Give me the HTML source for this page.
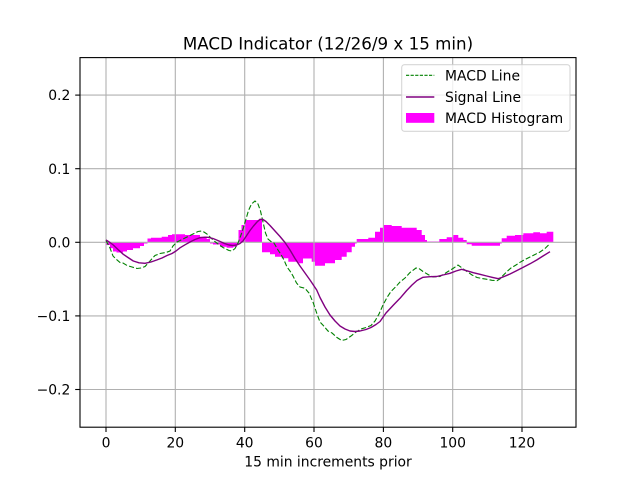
<!DOCTYPE html>
<html>
<head>
<meta charset="utf-8">
<style>
html,body{margin:0;padding:0;background:#fff;}
svg{display:block;}
text{font-family:"DejaVu Sans","Liberation Sans",sans-serif;fill:#000;}
</style>
</head>
<body>
<svg width="640" height="480" viewBox="0 0 640 480" xmlns="http://www.w3.org/2000/svg">
<rect x="0" y="0" width="640" height="480" fill="#fff"/>
<!-- histogram -->
<path fill="#ff00ff" stroke="none" d="M104.5,242.3 L104.5,243 L106.5,243 L106.5,245 L110,245 L110,248.3 L113,248.3 L113,251.5 L116.5,251.5 L116.5,252.5 L123,252.5 L123,251.5 L127,251.5 L127,250 L133,250 L133,248.3 L140,248.3 L140,246 L144,246 L144,243.5 L147.5,243.5 L147.5,238.5 L151,238.5 L151,237.7 L161.7,237.7 L161.7,236.7 L168,236.7 L168,235 L172,235 L172,234.3 L185,234.3 L185,235 L200,235 L200,236.7 L206.7,236.7 L206.7,239 L210,239 L210,243.5 L213,243.5 L213,244.5 L220,244.5 L220,246.7 L226.7,246.7 L226.7,247.7 L233.3,247.7 L233.3,246.7 L237,246.7 L237,244 L238.5,244 L238.5,230 L241.5,230 L241.5,225 L245,225 L245,220 L262,220 L262,252.3 L270,252.3 L270,254.3 L275,254.3 L275,256.7 L281.7,256.7 L281.7,258.3 L288.3,258.3 L288.3,261.7 L298.3,261.7 L298.3,263.3 L303,263.3 L303,258.5 L311.7,258.5 L311.7,261.7 L315,261.7 L315,265.7 L325,265.7 L325,263.3 L335,263.3 L335,260 L341.7,260 L341.7,256.7 L346.7,256.7 L346.7,252.3 L351.7,252.3 L351.7,246.7 L355,246.7 L355,243.5 L356.7,243.5 L356.7,239 L368.3,239 L368.3,237.7 L375,237.7 L375,231.7 L380,231.7 L380,227.7 L383.3,227.7 L383.3,225 L391.7,225 L391.7,226 L401.7,226 L401.7,227.7 L416.7,227.7 L416.7,230 L421.7,230 L421.7,235 L425,235 L425,240 L427,240 L427,241.5 L439.3,241.5 L439.3,239 L446.7,239 L446.7,237.3 L453.3,237.3 L453.3,235 L458.3,235 L458.3,237.7 L463.3,237.7 L463.3,240 L466.7,240 L466.7,244.3 L471.7,244.3 L471.7,245.7 L500,245.7 L500,243.5 L501.7,243.5 L501.7,238.3 L506.7,238.3 L506.7,235.7 L515,235.7 L515,235 L523.3,235 L523.3,233.3 L533.3,233.3 L533.3,232.3 L540,232.3 L540,233.3 L546.7,233.3 L546.7,231.7 L553.3,231.7 L553.3,242.3 Z"/>
<!-- grid -->
<g stroke="#b0b0b0" stroke-width="1.1" fill="none">
<line x1="106" y1="57.6" x2="106" y2="427.2"/>
<line x1="175.3" y1="57.6" x2="175.3" y2="427.2"/>
<line x1="244.7" y1="57.6" x2="244.7" y2="427.2"/>
<line x1="314" y1="57.6" x2="314" y2="427.2"/>
<line x1="383.4" y1="57.6" x2="383.4" y2="427.2"/>
<line x1="452.7" y1="57.6" x2="452.7" y2="427.2"/>
<line x1="522" y1="57.6" x2="522" y2="427.2"/>
<line x1="80" y1="95.1" x2="576" y2="95.1"/>
<line x1="80" y1="168.7" x2="576" y2="168.7"/>
<line x1="80" y1="242.3" x2="576" y2="242.3"/>
<line x1="80" y1="315.9" x2="576" y2="315.9"/>
<line x1="80" y1="389.5" x2="576" y2="389.5"/>
</g>
<!-- MACD line -->
<polyline fill="none" stroke="#008000" stroke-width="1.1" stroke-dasharray="5.1,2.2" points="106,240.5 110,248 113,256 116,259 120,262.5 123,263 127,265.5 132,267 137,268.5 141,268 145,266.5 150,261 155,255.5 160,253.5 166,252.5 170,251 173,246 177,242 182,239.5 187,237 193,234 198,231.5 201.5,231 204,232 207,234 213,240 218,244 223,247.5 229,250.5 232,251 235,248.5 238,243 241,235 243.5,227.5 246,219 248.5,210.5 251.5,204 255,201 258,204 260.5,211 263,222 265.5,233 268,239 271,241.5 274,243 278,250 281,254.5 284,260 287,267 290,271 293,276 296.5,283 300,287 305,288.3 309,293 313.3,303 317,314 320,322 323.3,325.5 328,331 332,333 337,337.5 341.7,340.5 346,339.5 351,336 356,332 361,329 366,327.5 371,325.5 375,321 379,314 383,305 387,297.5 391,291.5 396,286.5 400,282 405,278 410,272.5 416,268 419,268.5 423,271.5 428,274.5 433,277 440,276.5 444,274 448,271.5 453,268.5 458,265 462,268 467,271.5 472,275 477,277.5 482,278.5 487,279.3 492,280.3 497,280.7 500,279 503,275.5 507,271.5 511,268 516,265 520,262.3 525,259.5 530,257 535,254.5 540,252 545,248.5 550,243.5"/>
<!-- Signal line -->
<polyline fill="none" stroke="#800080" stroke-width="1.4" stroke-linejoin="round" points="106,240 110,242.5 113.3,245 118,249.5 123.3,254.3 128,257.5 133.3,261 139,262.8 145,263.3 151,262 156.7,260 162,258 167,255.5 172,253.5 176,251 180,247.8 185,244.8 190,242 195,239.5 200,237.7 205,237.2 208,237.3 213,238.5 219,241 224,243.3 229,245 233,245.5 236.7,245 240,243.5 243,241 246,236.5 250,230.5 253.5,226 257,222 260,219.3 263,219.5 266,221.5 270,225.5 275,231 280,236.5 285,242.5 290,250 295,258.5 300,266 305,273 310,280 316.7,290 320,297.5 325,307 330,315 335,321 340,326 345,329 350,331 355,331.5 360,331 366,329.5 371,327.5 376,324.5 380,321.5 386,313 393,305.5 400,298.3 406.7,290.5 412,285 417,280.5 423,277.3 430,276.7 436.7,276.5 443,275 450,273.3 456,271 461.7,269.3 467,270.8 473.3,272.7 480,274.3 486.7,276 492,277.3 498.3,278.7 503,277 510,274 516,271 523.3,267.3 530,263.8 536.7,260 543,256 550,251.7"/>
<!-- spines -->
<rect x="80" y="57.6" width="496" height="369.6" fill="none" stroke="#000" stroke-width="1.1"/>
<!-- ticks -->
<g stroke="#000" stroke-width="1.1">
<line x1="106" y1="427.2" x2="106" y2="432"/>
<line x1="175.3" y1="427.2" x2="175.3" y2="432"/>
<line x1="244.7" y1="427.2" x2="244.7" y2="432"/>
<line x1="314" y1="427.2" x2="314" y2="432"/>
<line x1="383.4" y1="427.2" x2="383.4" y2="432"/>
<line x1="452.7" y1="427.2" x2="452.7" y2="432"/>
<line x1="522" y1="427.2" x2="522" y2="432"/>
<line x1="75.2" y1="95.1" x2="80" y2="95.1"/>
<line x1="75.2" y1="168.7" x2="80" y2="168.7"/>
<line x1="75.2" y1="242.3" x2="80" y2="242.3"/>
<line x1="75.2" y1="315.9" x2="80" y2="315.9"/>
<line x1="75.2" y1="389.5" x2="80" y2="389.5"/>
</g>
<g font-size="13.9" text-anchor="middle">
<text x="106" y="447.5">0</text>
<text x="175.3" y="447.5">20</text>
<text x="244.7" y="447.5">40</text>
<text x="314" y="447.5">60</text>
<text x="383.4" y="447.5">80</text>
<text x="452.7" y="447.5">100</text>
<text x="522" y="447.5">120</text>
</g>
<g font-size="13.9" text-anchor="end">
<text x="70.3" y="100.2">0.2</text>
<text x="70.3" y="173.8">0.1</text>
<text x="70.3" y="247.4">0.0</text>
<text x="70.3" y="321">−0.1</text>
<text x="70.3" y="394.6">−0.2</text>
</g>
<text x="328" y="466.5" font-size="13.9" text-anchor="middle">15 min increments prior</text>
<text x="328" y="49.3" font-size="16.7" text-anchor="middle">MACD Indicator (12/26/9 x 15 min)</text>
<!-- legend -->
<rect x="401.7" y="64.7" width="168.3" height="66.6" rx="2.8" ry="2.8" fill="#fff" fill-opacity="0.8" stroke="#cccccc" stroke-opacity="0.8" stroke-width="1.1"/>
<line x1="406" y1="75.3" x2="434.3" y2="75.3" stroke="#008000" stroke-width="1.1" stroke-dasharray="3.2,1.4"/>
<line x1="406" y1="97" x2="434.3" y2="97" stroke="#800080" stroke-width="1.4"/>
<rect x="406" y="113" width="28.3" height="9.8" fill="#ff00ff"/>
<g font-size="13.9">
<text x="445" y="80.3">MACD Line</text>
<text x="445" y="102">Signal Line</text>
<text x="445" y="123">MACD Histogram</text>
</g>
</svg>
</body>
</html>
